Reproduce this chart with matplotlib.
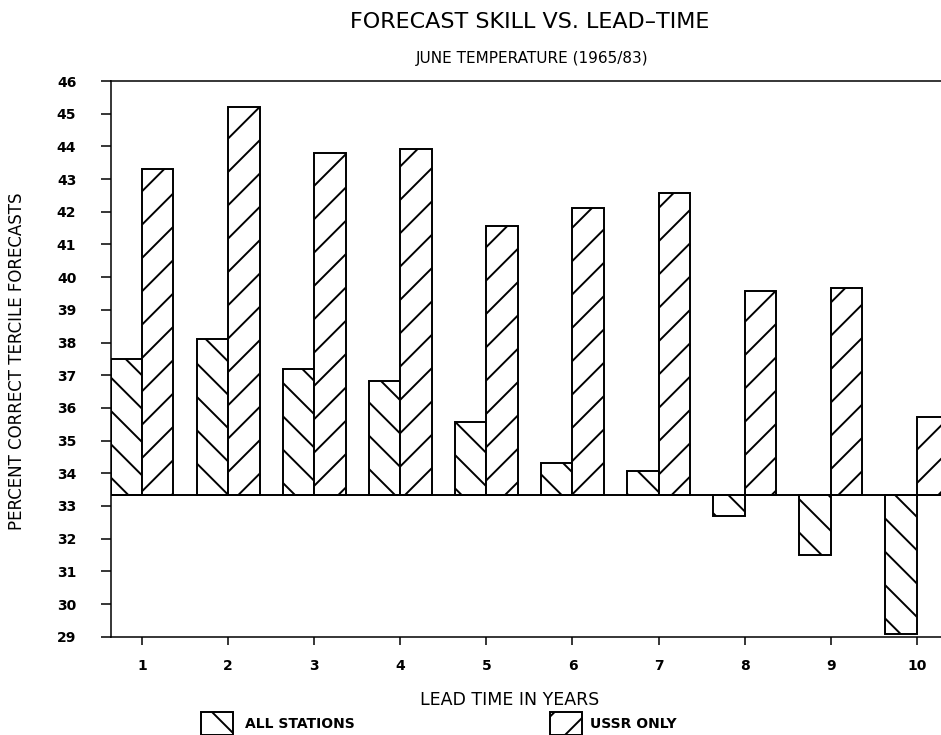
import matplotlib
matplotlib.use('Agg')
import matplotlib.pyplot as plt
import numpy as np

# lead time (years) and percent correct tercile forecasts
lead_years = [1, 2, 3, 4, 5, 6, 7, 8, 9, 10]
all_stations = [37.49, 38.10, 37.20, 36.81, 35.58, 34.30, 34.08, 32.69, 31.50, 29.08]
ussr_only = [43.30, 45.19, 43.81, 43.93, 41.57, 42.10, 42.57, 39.57, 39.68, 35.73]
chance_level = 33.33
y_ticks = list(range(29, 47))

plt.rcParams['font.family'] = ['DejaVu Sans']
plt.rcParams['hatch.linewidth'] = 1.4
plt.rcParams['hatch.color'] = 'black'

fig = plt.figure(figsize=(9.41, 7.35), dpi=100)
ax = fig.add_axes([111 / 941, 1 - 636.7 / 735, 834 / 941, 555.7 / 735])

x = np.array(lead_years, dtype=float)
w = 0.365
h_all = np.array(all_stations) - chance_level
h_ussr = np.array(ussr_only) - chance_level

bars_all = ax.bar(x - w / 2, h_all, w, bottom=chance_level, color='white',
                  edgecolor='black', linewidth=1.4, hatch='\\')
bars_ussr = ax.bar(x + w / 2, h_ussr, w, bottom=chance_level, color='white',
                   edgecolor='black', linewidth=1.4, hatch='/')

# chance level (one third) line across the plot
ax.axhline(chance_level, color='black', linewidth=1.4, zorder=3)

ax.set_xlim(1 - 31 / 86.1, 1 - 31 / 86.1 + 834 / 86.1)
ax.set_ylim(29, 46)
ax.set_xticks(lead_years)
ax.set_yticks(y_ticks)
ax.tick_params(axis='y', direction='out', length=7, width=1.1, pad=18,
               labelsize=10)
ax.tick_params(axis='x', direction='out', length=6, width=1.1, pad=10,
               labelsize=10)
for lab in ax.get_xticklabels() + ax.get_yticklabels():
    lab.set_fontweight('bold')

ax.spines['right'].set_visible(False)
for s in ('left', 'top', 'bottom'):
    ax.spines[s].set_linewidth(1.1)

fig.text(510 / 941, 1 - 700 / 735, 'LEAD TIME IN YEARS',
         ha='center', va='center', fontsize=12.5)
fig.text(17 / 941, 1 - 361 / 735, 'PERCENT CORRECT TERCILE FORECASTS',
         ha='center', va='center', rotation=90, fontsize=12)

fig.text(530 / 941, 1 - 22 / 735, 'FORECAST SKILL VS. LEAD\u2013TIME',
         ha='center', va='center', fontsize=16)
fig.text(532 / 941, 1 - 58 / 735, 'JUNE TEMPERATURE (1965/83)',
         ha='center', va='center', fontsize=11)

leg1 = fig.legend([bars_all[0]], ['ALL STATIONS'], loc='upper left',
                  bbox_to_anchor=(201 / 941, 1 - 712 / 735), frameon=False,
                  handlelength=2.3, handleheight=2.2, handletextpad=0.9,
                  borderpad=0, borderaxespad=0, prop={'size': 10, 'weight': 'bold'})
leg2 = fig.legend([bars_ussr[0]], ['USSR ONLY'], loc='upper left',
                  bbox_to_anchor=(550 / 941, 1 - 712 / 735), frameon=False,
                  handlelength=2.3, handleheight=2.2, handletextpad=0.6,
                  borderpad=0, borderaxespad=0, prop={'size': 10, 'weight': 'bold'})

fig.savefig('out.png', dpi=100)
